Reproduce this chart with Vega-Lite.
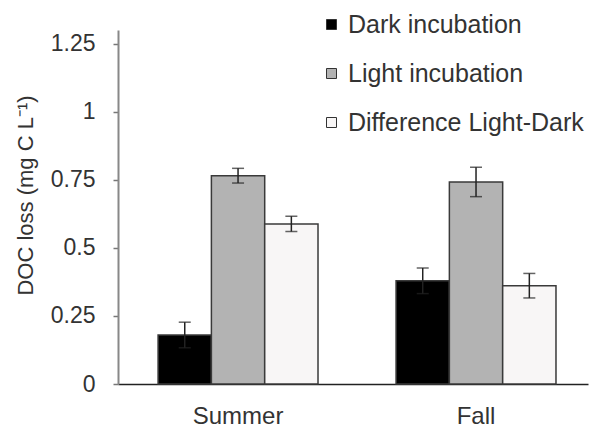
{
  "$schema": "https://vega.github.io/schema/vega-lite/v6.json",
  "width": 470,
  "height": 354,
  "autosize": {"type": "none"},
  "padding": {"left": 118, "top": 30, "right": 6, "bottom": 43},
  "background": "white",
  "config": {"font": "Liberation Sans", "view": {"stroke": null}},
  "data": {
    "values": [
      {"season": "Summer", "type": "Dark incubation", "value": 0.18, "lo": 0.133, "hi": 0.227},
      {"season": "Summer", "type": "Light incubation", "value": 0.765, "lo": 0.738, "hi": 0.792},
      {"season": "Summer", "type": "Difference Light-Dark", "value": 0.588, "lo": 0.56, "hi": 0.616},
      {"season": "Fall", "type": "Dark incubation", "value": 0.379, "lo": 0.332, "hi": 0.426},
      {"season": "Fall", "type": "Light incubation", "value": 0.742, "lo": 0.688, "hi": 0.796},
      {"season": "Fall", "type": "Difference Light-Dark", "value": 0.361, "lo": 0.316, "hi": 0.406}
    ]
  },
  "encoding": {
    "x": {
      "field": "season",
      "type": "nominal",
      "sort": ["Summer", "Fall"],
      "scale": {"paddingInner": 0.328, "paddingOuter": 0.1515, "align": 0.556},
      "axis": {
        "title": null,
        "labelAngle": 0,
        "labelFontSize": 24,
        "labelColor": "#333",
        "labelPadding": 20,
        "ticks": false,
        "domainColor": "#222",
        "domainWidth": 1.5
      }
    },
    "xOffset": {
      "field": "type",
      "sort": ["Dark incubation", "Light incubation", "Difference Light-Dark"],
      "scale": {"paddingInner": 0}
    }
  },
  "layer": [
    {
      "mark": {"type": "bar", "stroke": "#3a3a3a", "strokeWidth": 1.5},
      "encoding": {
        "y": {
          "field": "value",
          "type": "quantitative",
          "scale": {"domain": [0, 1.25]},
          "axis": {
            "values": [0, 0.25, 0.5, 0.75, 1, 1.25],
            "labelExpr": "format(datum.value, '~g')",
            "grid": false,
            "labelFontSize": 23,
            "labelColor": "#333",
            "labelPadding": 18,
            "tickSize": 5,
            "tickColor": "#777",
            "tickWidth": 1.5,
            "domainColor": "#888",
            "domainWidth": 2,
            "title": "DOC loss (mg C L⁻¹)",
            "titleFontSize": 22,
            "titleFontWeight": "normal",
            "titleColor": "#333",
            "titleAngle": -90,
            "titleAlign": "center",
            "titleBaseline": "alphabetic",
            "titleX": -86,
            "titleY": 165
          }
        },
        "color": {
          "field": "type",
          "type": "nominal",
          "scale": {
            "domain": ["Dark incubation", "Light incubation", "Difference Light-Dark"],
            "range": ["#000000", "#b3b3b3", "#f8f6f6"]
          },
          "legend": {
            "title": null,
            "orient": "none",
            "legendX": 201,
            "legendY": -18,
            "symbolType": "square",
            "symbolSize": 100,
            "symbolStrokeColor": "#333",
            "symbolStrokeWidth": 1,
            "labelFontSize": 25,
            "labelColor": "#333",
            "labelOffset": 4,
            "labelLimit": 300,
            "rowPadding": 23
          }
        }
      }
    },
    {
      "mark": {"type": "rule", "color": "#222", "strokeWidth": 1.5},
      "encoding": {
        "y": {"field": "lo", "type": "quantitative"},
        "y2": {"field": "hi"}
      }
    },
    {
      "mark": {"type": "tick", "color": "#222", "size": 12, "thickness": 1.5},
      "encoding": {"y": {"field": "lo", "type": "quantitative"}}
    },
    {
      "mark": {"type": "tick", "color": "#222", "size": 12, "thickness": 1.5},
      "encoding": {"y": {"field": "hi", "type": "quantitative"}}
    }
  ]
}
